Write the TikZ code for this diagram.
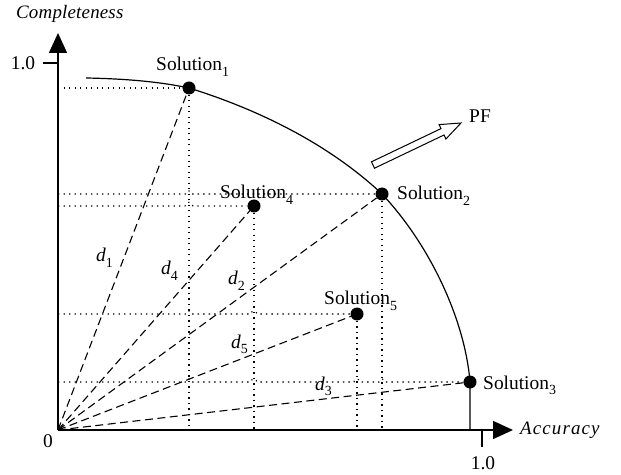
\documentclass[tikz,border=0pt]{standalone}
\usepackage{fontspec}
\setmainfont{Liberation Serif}
\usetikzlibrary{arrows.meta}
\newcommand{\subx}[1]{\raisebox{-0.28em}{\fontsize{14}{14}\selectfont #1}}
\begin{document}
\begin{tikzpicture}[x=1bp,y=-1bp,
  txt/.style={inner sep=0pt,font=\fontsize{19.5}{21}\selectfont},
  itxt/.style={txt,font=\fontsize{19}{21}\selectfont\itshape},
  axis/.style={line width=1.5bp,-{Triangle[width=18bp,length=20bp]}},
  front/.style={line width=1.2bp},
  guide/.style={line width=1.1bp,dash pattern=on 1.3bp off 4.2bp},
  dist/.style={line width=1.1bp,dash pattern=on 8bp off 4.5bp},
  sol/.style={circle,fill=black,inner sep=0pt,minimum size=13bp},
  pfarrow/.style={line width=1bp,fill=white}]
\useasboundingbox (0,0) rectangle (621,475);
% axes
\coordinate (O) at (58,430);
\coordinate (ytip) at (58,33);
\coordinate (xtip) at (513,430);
\draw[axis] (O) -- (ytip);
\draw[axis] (O) -- (xtip);
\coordinate (yt1) at (43,63); \coordinate (yt2) at (58,63);
\coordinate (xt1) at (482,430); \coordinate (xt2) at (482,447);
\draw[line width=1.2bp] (yt1) -- (yt2);
\draw[line width=1.2bp] (xt1) -- (xt2);
\node[itxt,anchor=west] (ylab) at (16,14) {\addfontfeature{LetterSpace=1}Completeness};
\node[itxt,anchor=west] (xlab) at (520,430) {\addfontfeature{LetterSpace=6}Accuracy};
\node[txt] (y1) at (23,63) {1.0};
\node[txt] (x1) at (483,463) {1.0};
\node[txt] (zero) at (48,441) {0};
% solutions
\node[sol] (s1) at (189,88) {};
\node[sol] (s2) at (382,194) {};
\node[sol] (s3) at (470,382) {};
\node[sol] (s4) at (254,206) {};
\node[sol] (s5) at (357,314) {};
% Pareto front
\draw[front] (86,78) .. controls (140,79) and (170,84) .. (s1.center)
  .. controls (260,110) and (330,145) .. (s2.center)
  .. controls (430,245) and (465,320) .. (s3.center) -- (470,430);
% guide lines (vertical)
\coordinate (v1) at (189,430); \coordinate (v4) at (254,430);
\coordinate (v2) at (382,430); \coordinate (v5) at (357,430);
\draw[guide] (s1) -- (v1);
\draw[guide] (s4) -- (v4);
\draw[guide] (s2) -- (v2);
\draw[guide] (s5) -- (v5);
% guide lines (horizontal, with hops)
\coordinate (h1) at (58,88); \coordinate (h2) at (58,194);
\coordinate (h4) at (58,206); \coordinate (h5) at (58,314);
\coordinate (h3) at (58,382);
\draw[guide] (h1) -- (s1);
\draw[guide] (h2) -- (186,194) .. controls (186,190) and (192,190) .. (192,194) -- (s2);
\draw[guide] (h4) -- (185,206) .. controls (186,201) and (192,201) .. (193,206) -- (s4);
\draw[guide] (h5) -- (186,314) .. controls (186,310) and (192,310) .. (192,314)
  -- (251,314) .. controls (251,310) and (257,310) .. (257,314) -- (s5);
\draw[guide] (h3) -- (186,382) .. controls (186,378) and (192,378) .. (192,382)
  -- (251,382) .. controls (251,378) and (257,378) .. (257,382)
  -- (354,382) .. controls (354,378) and (360,378) .. (360,382)
  -- (379,382) .. controls (379,378) and (385,378) .. (385,382) -- (s3);
% distances
\draw[dist] (O) -- (s1);
\draw[dist] (O) -- (s4);
\draw[dist] (O) -- (s2);
\draw[dist] (O) -- (s5);
\draw[dist] (O) -- (s3);
% labels
\node[txt,anchor=base west] (l1) at (156,71) {Solution\subx{1}};
\node[txt,anchor=base west] (l4) at (220,199) {Solution\subx{4}};
\node[txt,anchor=base west] (l2) at (397,200) {Solution\subx{2}};
\node[txt,anchor=base west] (l5) at (324,305) {Solution\subx{5}};
\node[txt,anchor=base west] (l3) at (483,389) {Solution\subx{3}};
\node[txt,anchor=base west] (d1) at (96,262) {\textit{d}\subx{1}};
\node[txt,anchor=base west] (d4) at (161,275) {\textit{d}\subx{4}};
\node[txt,anchor=base west] (d2) at (228,285) {\textit{d}\subx{2}};
\node[txt,anchor=base west] (d5) at (231,348) {\textit{d}\subx{5}};
\node[txt,anchor=base west] (d3) at (315,390) {\textit{d}\subx{3}};
% PF arrow
\draw[pfarrow] (374.5,168.2) -- (444.0,135.0) -- (445.9,139.0) -- (461,123)
  -- (439.1,124.6) -- (441.0,128.6) -- (371.5,161.8) -- cycle;
\node[txt] (pf) at (480,116) {PF};
\end{tikzpicture}
\end{document}
